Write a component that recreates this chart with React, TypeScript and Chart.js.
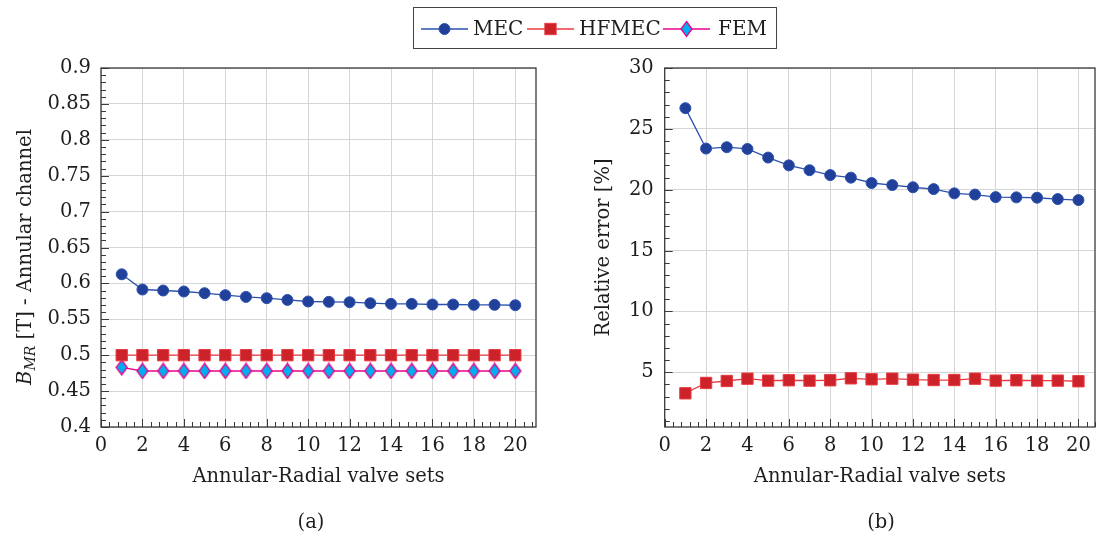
import React, { useEffect, useRef } from "react";
import { Chart, registerables } from "chart.js";

Chart.register(...registerables);

// ---------- data ----------
const valveSets = [1, 2, 3, 4, 5, 6, 7, 8, 9, 10, 11, 12, 13, 14, 15, 16, 17, 18, 19, 20];
const fluxMEC = [0.6127, 0.5915, 0.5901, 0.5887, 0.5864, 0.5836, 0.5812, 0.5794, 0.577, 0.5748, 0.5743, 0.5738, 0.5724, 0.5715, 0.5715, 0.5706, 0.5706, 0.5701, 0.5701, 0.5696];
const fluxHFMEC = [0.5, 0.5, 0.5, 0.5, 0.5, 0.5, 0.5, 0.5, 0.5, 0.5, 0.5, 0.5, 0.5, 0.5, 0.5, 0.5, 0.5, 0.5, 0.5, 0.5];
const fluxFEM = [0.483, 0.478, 0.478, 0.478, 0.478, 0.478, 0.478, 0.478, 0.478, 0.478, 0.478, 0.478, 0.478, 0.478, 0.478, 0.478, 0.478, 0.478, 0.478, 0.478];
const errorMEC = [26.7, 23.38, 23.49, 23.35, 22.64, 22.0, 21.6, 21.2, 20.99, 20.55, 20.38, 20.2, 20.05, 19.7, 19.6, 19.39, 19.37, 19.34, 19.23, 19.15];
const errorHFMEC = [3.27, 4.12, 4.28, 4.47, 4.31, 4.34, 4.31, 4.34, 4.5, 4.42, 4.47, 4.39, 4.36, 4.36, 4.47, 4.31, 4.34, 4.31, 4.31, 4.26];

const xTicks = [0, 2, 4, 6, 8, 10, 12, 14, 16, 18, 20];
const fluxTicks = [0.4, 0.45, 0.5, 0.55, 0.6, 0.65, 0.7, 0.75, 0.8, 0.85, 0.9];
const fluxTickLabels = ["0.4", "0.45", "0.5", "0.55", "0.6", "0.65", "0.7", "0.75", "0.8", "0.85", "0.9"];
const errorTicks = [5, 10, 15, 20, 25, 30];
const errorTickLabels = ["5", "10", "15", "20", "25", "30"];

const seriesNames = ["MEC", "HFMEC", "FEM"];
const xTitle = "Annular-Radial valve sets";
const fluxTitleMain = "B";
const fluxTitleSub = "MR";
const fluxTitleRest = " [T] - Annular channel";
const errorTitle = "Relative error [%]";
const captions = ["(a)", "(b)"];

// ---------- style ----------
const FONT = "'DejaVu Serif', serif";
const TEXT = "#1e1e1e";
const GRID = "#d6d6d6";
const FRAME = "#3a3a3a";
const AX_SIZE = 19.5;

const MEC_FILL = "#21409a";
const MEC_LINE = "#2d52ad";
const HF_FILL = "#cc2229";
const HF_LINE = "#ea3a40";
const FEM_FILL = "#00aeef";
const FEM_LINE = "#ec008c";

function makeDiamond(): HTMLCanvasElement {
  const c = document.createElement("canvas");
  c.width = 13;
  c.height = 17;
  const g = c.getContext("2d")!;
  g.beginPath();
  g.moveTo(6.5, 1);
  g.lineTo(12, 8.5);
  g.lineTo(6.5, 16);
  g.lineTo(1, 8.5);
  g.closePath();
  g.fillStyle = FEM_FILL;
  g.fill();
  g.strokeStyle = FEM_LINE;
  g.lineWidth = 1.3;
  g.stroke();
  return c;
}

const framePlugin = {
  id: "frameTicks",
  afterDatasetsDraw(chart: any, _args: any, opts: any) {
    const { ctx, chartArea: a, scales } = chart;
    const xs = scales.x;
    const ys = scales.y;
    ctx.save();
    ctx.strokeStyle = FRAME;
    ctx.lineWidth = 1;
    ctx.beginPath();
    const nx = Math.round((xs.max - 0) / opts.xMinor);
    for (let i = 0; i <= nx; i++) {
      const v = i * opts.xMinor;
      if (v > xs.max + 1e-9) break;
      const px = Math.round(xs.getPixelForValue(v)) + 0.5;
      const isMajor = Math.abs(v / 2 - Math.round(v / 2)) < 1e-6;
      const len = isMajor ? 8 : 5;
      ctx.moveTo(px, a.bottom);
      ctx.lineTo(px, a.bottom - len);
    }
    const ny = Math.round((ys.max - opts.yStart) / opts.yMinor);
    for (let i = 0; i <= ny; i++) {
      const v = opts.yStart + i * opts.yMinor;
      if (v < ys.min - 1e-9) continue;
      const py = Math.round(ys.getPixelForValue(v)) + 0.5;
      const ratio = v / opts.yMajor;
      const isMajor = Math.abs(ratio - Math.round(ratio)) < 1e-6;
      const len = isMajor ? 8 : 5;
      ctx.moveTo(a.left, py);
      ctx.lineTo(a.left + len, py);
    }
    ctx.stroke();
    ctx.lineWidth = 1.3;
    ctx.strokeRect(a.left, a.top, a.right - a.left, a.bottom - a.top);
    ctx.restore();
  },
};

const fluxTitlePlugin = {
  id: "fluxTitle",
  afterDraw(chart: any) {
    const { ctx } = chart;
    ctx.save();
    ctx.translate(24, 257);
    ctx.rotate(-Math.PI / 2);
    ctx.fillStyle = TEXT;
    ctx.textBaseline = "alphabetic";
    ctx.textAlign = "left";
    const main = `${AX_SIZE}px ${FONT}`;
    const ital = `italic ${AX_SIZE}px ${FONT}`;
    const sub = `italic 14px ${FONT}`;
    ctx.font = ital;
    const wB = ctx.measureText(fluxTitleMain).width;
    ctx.font = sub;
    const wS = ctx.measureText(fluxTitleSub).width;
    ctx.font = main;
    const wR = ctx.measureText(fluxTitleRest).width;
    let x = -(wB + wS + wR) / 2;
    const base = 7;
    ctx.font = ital;
    ctx.fillText(fluxTitleMain, x, base);
    x += wB;
    ctx.font = sub;
    ctx.fillText(fluxTitleSub, x, base + 4);
    x += wS;
    ctx.font = main;
    ctx.fillText(fluxTitleRest, x, base);
    ctx.restore();
  },
};

function xScale(max: number) {
  return {
    type: "linear",
    min: 0,
    max,
    afterBuildTicks: (s: any) => {
      s.ticks = xTicks.map((v) => ({ value: v }));
    },
    afterFit: (s: any) => {
      s.height = 70;
    },
    grid: { color: GRID, lineWidth: 1, drawTicks: false },
    border: { display: false },
    ticks: {
      padding: 7,
      color: TEXT,
      maxRotation: 0,
      autoSkip: false,
      font: { family: FONT, size: AX_SIZE },
      callback: (_v: any, i: number) => String(xTicks[i]),
    },
    title: {
      display: true,
      text: xTitle,
      color: TEXT,
      font: { family: FONT, size: AX_SIZE },
      padding: { top: 0, bottom: 8 },
    },
  };
}

function lineDs(label: string, data: number[], fill: string, line: string, style: any, radius: number) {
  return {
    label,
    data: valveSets.map((x, i) => ({ x, y: data[i] })),
    borderColor: line,
    borderWidth: 1.3,
    backgroundColor: fill,
    pointBackgroundColor: fill,
    pointBorderColor: line,
    pointBorderWidth: 1,
    pointStyle: style,
    pointRadius: radius,
    tension: 0,
    fill: false,
  };
}

export default function App() {
  const leftRef = useRef<HTMLCanvasElement>(null);
  const rightRef = useRef<HTMLCanvasElement>(null);

  useEffect(() => {
    const diamond = makeDiamond();
    const common = {
      responsive: false,
      animation: false,
      devicePixelRatio: 1,
      events: [],
    };
    const left = new Chart(leftRef.current!, {
      type: "line",
      data: {
        datasets: [
          lineDs(seriesNames[0], fluxMEC, MEC_FILL, MEC_LINE, "circle", 5.5),
          lineDs(seriesNames[1], fluxHFMEC, HF_FILL, HF_LINE, "rect", 8),
          lineDs(seriesNames[2], fluxFEM, FEM_FILL, FEM_LINE, diamond, 7),
        ],
      },
      options: {
        ...common,
        layout: { padding: { top: 68, right: 24, bottom: 42, left: 0 } },
        plugins: {
          legend: { display: false },
          tooltip: { enabled: false },
          frameTicks: { xMinor: 0.4, yStart: 0.4, yMinor: 0.01, yMajor: 0.05 },
        },
        scales: {
          x: xScale(21),
          y: {
            type: "linear",
            min: 0.4,
            max: 0.9,
            afterBuildTicks: (s: any) => {
              s.ticks = fluxTicks.map((v) => ({ value: v }));
            },
            afterFit: (s: any) => {
              s.width = 101;
            },
            grid: { color: GRID, lineWidth: 1, drawTicks: false },
            border: { display: false },
            ticks: {
              padding: 10,
              color: TEXT,
              font: { family: FONT, size: AX_SIZE },
              callback: (_v: any, i: number) => fluxTickLabels[i],
            },
          },
        },
      } as any,
      plugins: [framePlugin, fluxTitlePlugin],
    } as any);

    const right = new Chart(rightRef.current!, {
      type: "line",
      data: {
        datasets: [
          lineDs(seriesNames[0], errorMEC, MEC_FILL, MEC_LINE, "circle", 5.5),
          lineDs(seriesNames[1], errorHFMEC, HF_FILL, HF_LINE, "rect", 8),
        ],
      },
      options: {
        ...common,
        layout: { padding: { top: 68, right: 16, bottom: 42, left: 0 } },
        plugins: {
          legend: { display: false },
          tooltip: { enabled: false },
          frameTicks: { xMinor: 0.4, yStart: 1, yMinor: 1, yMajor: 5 },
        },
        scales: {
          x: xScale(20.8),
          y: {
            type: "linear",
            min: 0.5,
            max: 30,
            afterBuildTicks: (s: any) => {
              s.ticks = errorTicks.map((v) => ({ value: v }));
            },
            afterFit: (s: any) => {
              s.width = 104.7;
            },
            grid: { color: GRID, lineWidth: 1, drawTicks: false },
            border: { display: false },
            ticks: {
              padding: 11,
              color: TEXT,
              font: { family: FONT, size: AX_SIZE },
              callback: (_v: any, i: number) => errorTickLabels[i],
            },
            title: {
              display: true,
              text: errorTitle,
              color: TEXT,
              font: { family: FONT, size: AX_SIZE },
              padding: { top: 32, bottom: 0 },
            },
          },
        },
      } as any,
      plugins: [framePlugin],
    } as any);

    return () => {
      left.destroy();
      right.destroy();
    };
  }, []);

  const legendText: React.CSSProperties = {
    position: "absolute",
    top: 16,
    height: 24,
    lineHeight: "24px",
    fontSize: 20,
    fontFamily: FONT,
    color: TEXT,
    whiteSpace: "nowrap",
  };
  const svgStyle = (left: number): React.CSSProperties => ({ position: "absolute", left, top: 19 });

  return (
    <div style={{ position: "absolute", left: 0, top: 0, width: 1096, height: 539, background: "#fff", overflow: "hidden" }}>
      <canvas ref={leftRef} width={560} height={539} style={{ position: "absolute", left: 0, top: 0 }} />
      <canvas ref={rightRef} width={551} height={539} style={{ position: "absolute", left: 560, top: 0 }} />

      <div style={{ position: "absolute", left: 413, top: 7, width: 364, height: 42, border: "1.3px solid #444", boxSizing: "border-box" }} />
      <svg width={47} height={20} style={svgStyle(421)}>
        <line x1={0} y1={10} x2={47} y2={10} stroke={MEC_LINE} strokeWidth={1.3} />
        <circle cx={23.5} cy={10} r={5.5} fill={MEC_FILL} stroke={MEC_LINE} strokeWidth={1} />
      </svg>
      <div style={{ ...legendText, left: 473 }}>{seriesNames[0]}</div>
      <svg width={47} height={20} style={svgStyle(527)}>
        <line x1={0} y1={10} x2={47} y2={10} stroke={HF_LINE} strokeWidth={1.3} />
        <rect x={23.5 - 5.65} y={10 - 5.65} width={11.3} height={11.3} fill={HF_FILL} stroke={HF_LINE} strokeWidth={1} />
      </svg>
      <div style={{ ...legendText, left: 579 }}>{seriesNames[1]}</div>
      <svg width={47} height={20} style={svgStyle(663)}>
        <line x1={0} y1={10} x2={47} y2={10} stroke={FEM_LINE} strokeWidth={1.3} />
        <polygon points="23.5,2.5 29,10 23.5,17.5 18,10" fill={FEM_FILL} stroke={FEM_LINE} strokeWidth={1.3} />
      </svg>
      <div style={{ ...legendText, left: 718 }}>{seriesNames[2]}</div>

      <div style={{ position: "absolute", left: 261, top: 510, width: 100, textAlign: "center", lineHeight: "24px", fontSize: AX_SIZE, fontFamily: FONT, color: TEXT }}>{captions[0]}</div>
      <div style={{ position: "absolute", left: 831, top: 510, width: 100, textAlign: "center", lineHeight: "24px", fontSize: AX_SIZE, fontFamily: FONT, color: TEXT }}>{captions[1]}</div>
    </div>
  );
}
